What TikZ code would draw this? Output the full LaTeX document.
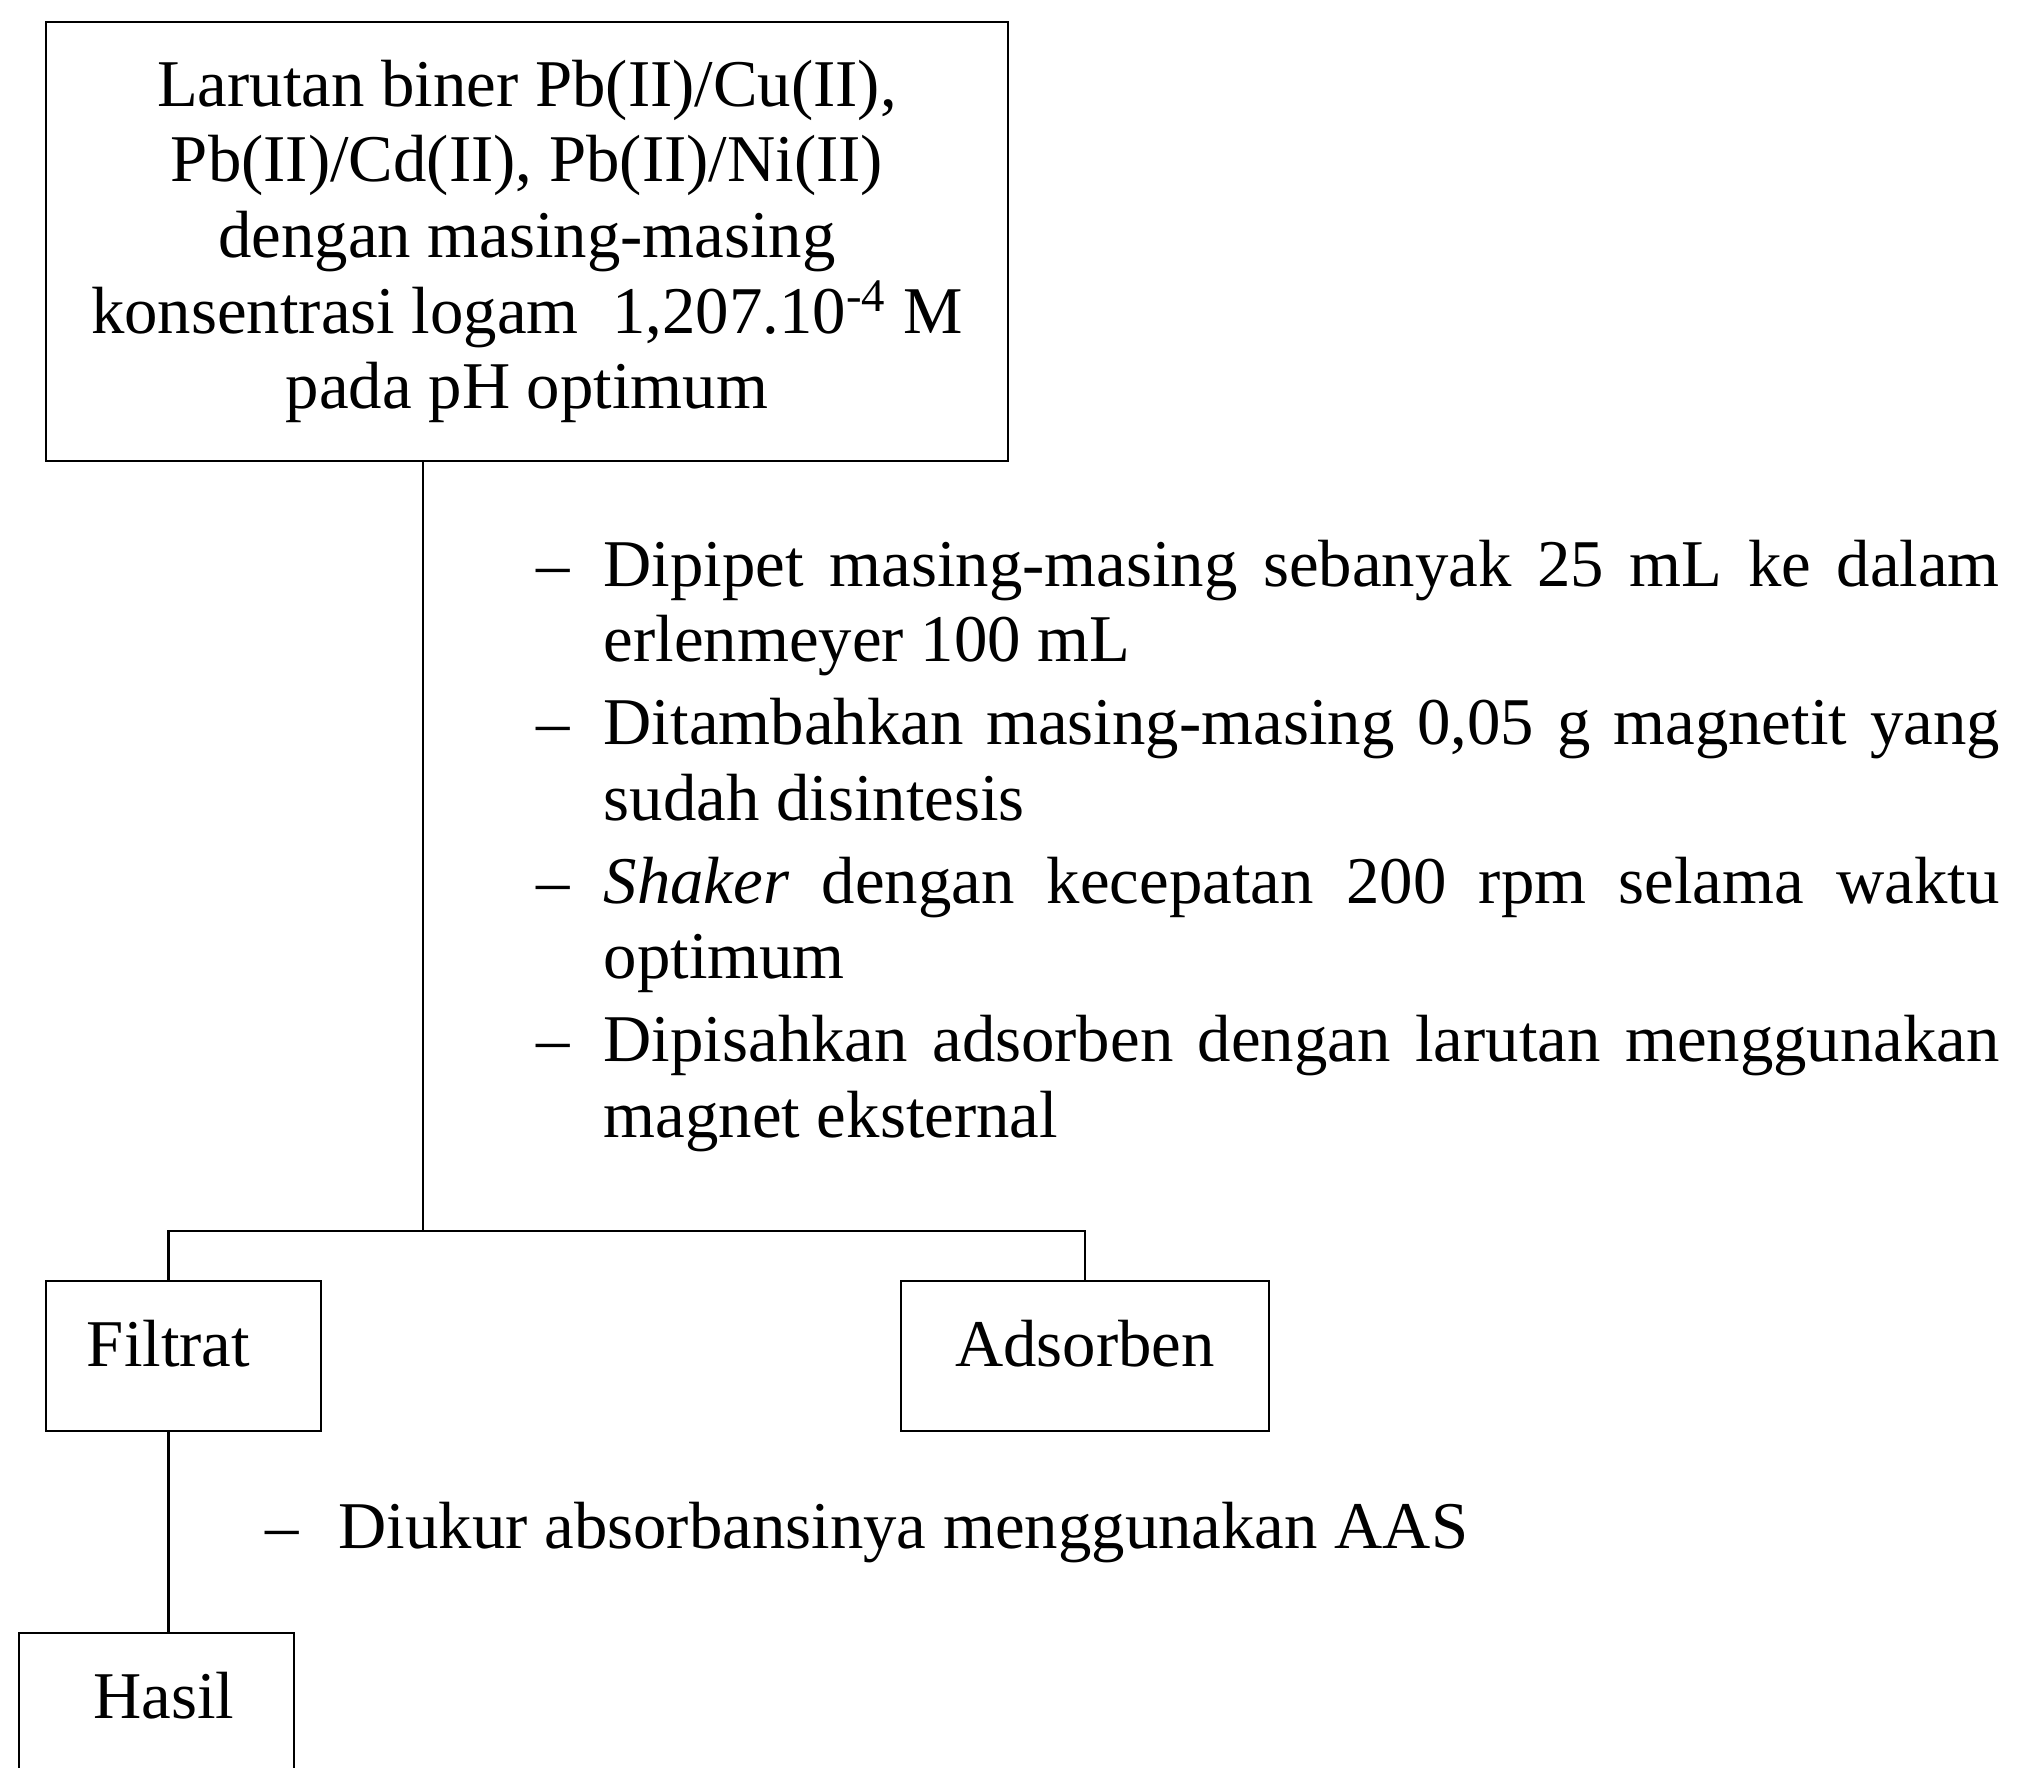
\documentclass[tikz,border=0pt]{standalone}
\usepackage{fontspec}
\setmainfont{Liberation Serif}

\begin{document}
\begin{tikzpicture}[
box/.style={rectangle, draw=black, line width=0.8pt, inner sep=0pt, align=center},
small/.style={box, minimum height=1.5cm, text height=13pt, text depth=7pt},
every node/.style={font=\fontsize{19}{21.5}\selectfont},
link/.style={draw=black, line width=0.8pt}
]
  \clip (0,0) rectangle (20.25,-17.68);

  \node[box, minimum width=9.62cm, minimum height=4.39cm] (larutan) at (5.27,-2.415)
    {Larutan biner Pb(II)/Cu(II),\\ Pb(II)/Cd(II), Pb(II)/Ni(II)\\ dengan masing-masing\\
     konsentrasi logam\ \ 1,207.10\textsuperscript{-4} M\\ pada pH optimum};

  \node[inner sep=0pt, anchor=north west, text width=14.63cm, align=justify] (langkah) at (5.36,-5.39)
    {\setlength{\parskip}{2.1pt}%
     \hangindent=6.7mm\hangafter=1 \makebox[6.7mm][l]{--}Dipipet masing-masing sebanyak 25 mL ke dalam\linebreak erlenmeyer 100 mL\par
     \hangindent=6.7mm\hangafter=1 \makebox[6.7mm][l]{--}Ditambahkan masing-masing 0,05 g magnetit yang\linebreak sudah disintesis\par
     \hangindent=6.7mm\hangafter=1 \makebox[6.7mm][l]{--}\textit{Shaker} dengan kecepatan 200 rpm selama waktu\linebreak optimum\par
     \hangindent=6.7mm\hangafter=1 \makebox[6.7mm][l]{--}Dipisahkan adsorben dengan larutan menggunakan\linebreak magnet eksternal\par};

  \coordinate (cabang) at (4.23,-12.31);

  \node[small, minimum width=2.75cm] (filtrat) at (1.835,-13.56) {Filtrat\hspace*{3mm}};
  \node[small, minimum width=3.68cm] (adsorben) at (10.85,-13.56) {Adsorben};
  \node[small, minimum width=2.75cm] (hasil) at (1.565,-17.08) {\hspace*{1.5mm}Hasil};

  \node[inner sep=0pt, anchor=base west] (ukur) at (2.65,-15.49)
    {\makebox[7.3mm][l]{--}Diukur absorbansinya menggunakan AAS};

  \draw[link] (larutan.south -| cabang) -- (cabang);
  \draw[link] ([xshift=-1.5mm]filtrat.north) |- (cabang) -| (adsorben.north);
  \draw[link] ([xshift=-1.5mm]filtrat.south) -- ([xshift=-1.5mm]filtrat.south |- hasil.north);
\end{tikzpicture}
\end{document}
